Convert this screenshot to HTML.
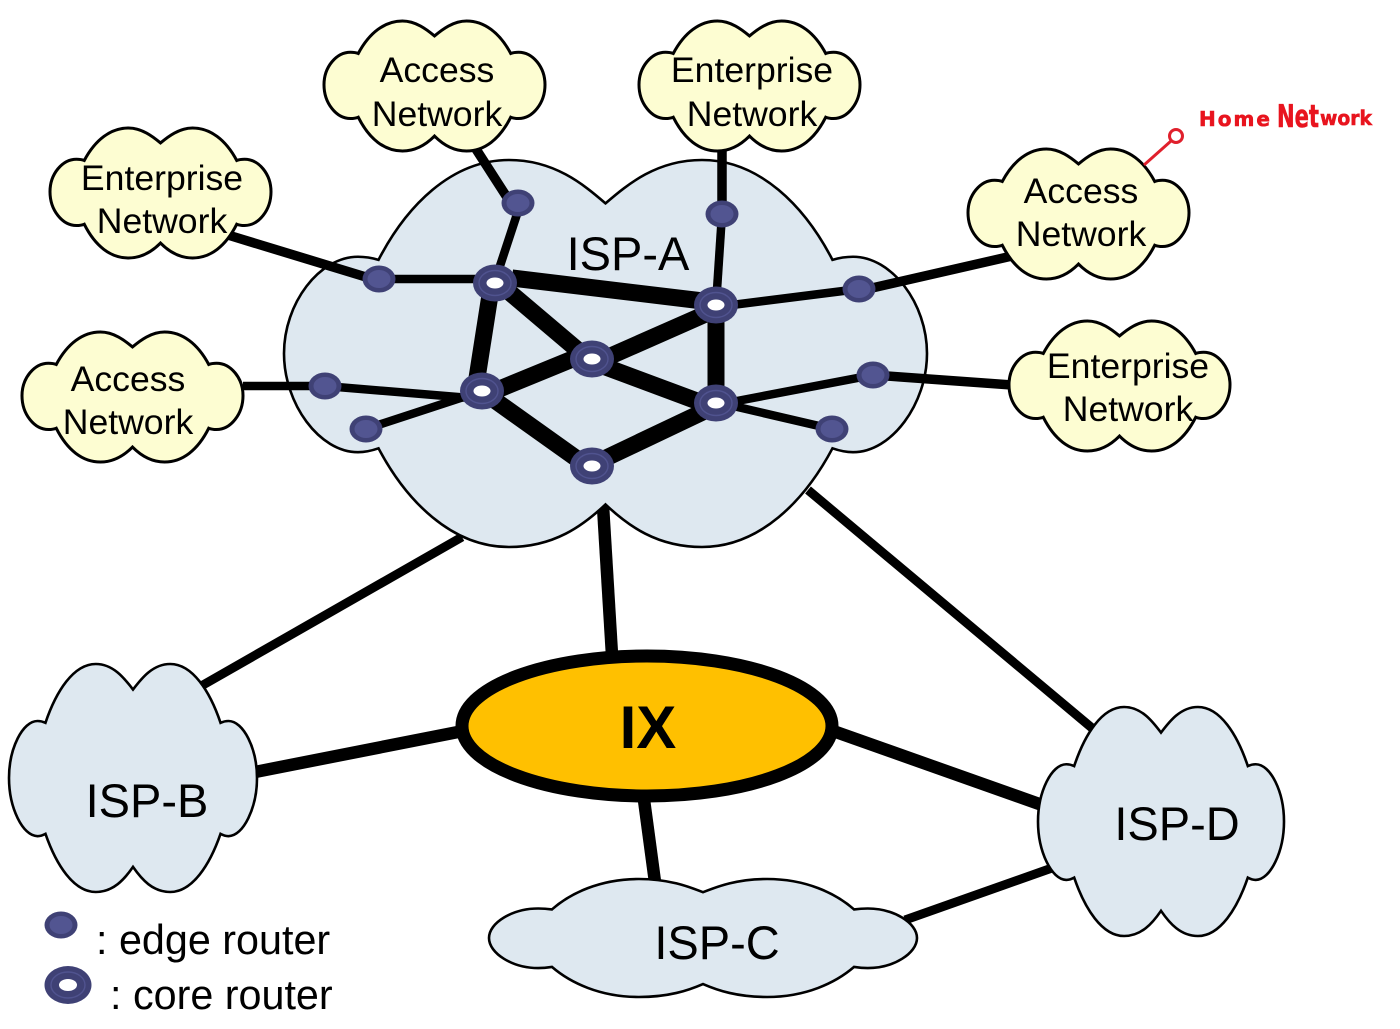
<!DOCTYPE html>
<html><head><meta charset="utf-8"><title>ISP network diagram</title>
<style>html,body{margin:0;padding:0;background:#fff}svg{display:block}
text{font-family:"Liberation Sans",Arial,sans-serif;fill:#000}
.n{font-size:35.6px;text-anchor:middle}
.i{font-size:47px;text-anchor:middle}
.l{font-size:41.3px}
.cl{vector-effect:non-scaling-stroke;stroke:#000;stroke-width:2.6;stroke-linejoin:miter}
.y{stroke-width:3}
.t8 line{stroke:#000;stroke-width:8.5}
.t9 line{stroke:#000;stroke-width:9}
.t10 line{stroke:#000;stroke-width:9.5}
.t12 line{stroke:#000;stroke-width:12.5}
.t16 line{stroke:#000;stroke-width:17}
.hw{font-family:"DejaVu Sans",sans-serif;fill:#e8141e;stroke:#e8141e;stroke-width:.6;font-weight:700}
</style></head><body>
<svg width="1400" height="1029" viewBox="0 0 1400 1029" xmlns="http://www.w3.org/2000/svg">
<defs>
<path id="big" class="cl" fill="#dee8f0" d="M500 112C535 62 580 0 650 0C740 0 810 120 853 258C865 252 875 250 885 250C945 250 1000 370 1000 500C1000 630 945 755 885 755C875 755 865 752 853 745C810 880 740 1000 650 1000C580 1000 535 945 500 890C465 945 420 1000 350 1000C260 1000 190 880 147 745C135 752 125 755 115 755C55 755 0 630 0 500C0 370 55 250 115 250C125 250 135 252 147 258C190 120 260 0 350 0C420 0 465 62 500 112Z"/>
<path id="yel" class="cl y" fill="#fdfdd2" d="M500 115C535 65 585 0 645 0C725 0 795 90 845 250C855 243 868 240 880 240C945 240 1000 355 1000 490C1000 630 945 750 880 750C868 750 855 747 845 740C795 910 725 1000 645 1000C585 1000 535 945 500 885C465 945 415 1000 355 1000C275 1000 205 910 155 740C145 747 132 750 120 750C55 750 0 630 0 490C0 355 55 240 120 240C132 240 145 243 155 250C205 90 275 0 355 0C415 0 465 65 500 115Z"/>
<g id="er"><ellipse rx="16.5" ry="13.5" fill="#3f4175"/><ellipse rx="11.5" ry="9" fill="#525591"/></g>
<g id="cr"><ellipse rx="22" ry="18.5" fill="#3f4175"/><ellipse rx="16" ry="12.5" fill="none" stroke="#50538f" stroke-width="1.4"/><ellipse rx="8.5" ry="5.5" fill="#fff"/></g>
</defs>

<g class="t9">
<line x1="462" y1="537" x2="203" y2="685"/>
<line x1="808" y1="490" x2="1092" y2="728"/>
<line x1="905" y1="920" x2="1052" y2="868"/>
</g>
<g class="t12">
<line x1="603" y1="506" x2="612" y2="655"/>
<line x1="458" y1="732" x2="255" y2="772"/>
<line x1="836" y1="732" x2="1042" y2="805"/>
<line x1="644" y1="800" x2="655" y2="882"/>
</g>

<use href="#big" transform="translate(284 160) scale(.643 .387)"/>
<use href="#big" transform="translate(9 664) scale(.248 .228)"/>
<use href="#big" transform="translate(1038 707) scale(.246 .229)"/>
<use href="#big" transform="translate(489 879) scale(.428 .118)"/>

<ellipse cx="647" cy="726" rx="185" ry="70" fill="#ffc000" stroke="#000" stroke-width="13"/>

<g class="t10">
<line x1="474" y1="146" x2="512" y2="205"/>
<line x1="722" y1="150" x2="722" y2="214"/>
<line x1="228" y1="235" x2="379" y2="281"/>
<line x1="1012" y1="256" x2="859" y2="291"/>
<line x1="1012" y1="385" x2="873" y2="375"/>
</g>
<g class="t8">
<line x1="520" y1="205" x2="497" y2="275"/>
<line x1="722" y1="214" x2="716" y2="305"/>
<line x1="379" y1="279" x2="495" y2="279"/>
<line x1="859" y1="289" x2="716" y2="307"/>
<line x1="243" y1="386" x2="325" y2="386"/>
<line x1="325" y1="386" x2="482" y2="399"/>
<line x1="366" y1="429" x2="482" y2="391"/>
<line x1="873" y1="375" x2="716" y2="405"/>
<line x1="832" y1="429" x2="716" y2="402"/>
</g>
<g class="t16">
<line x1="512" y1="278" x2="703" y2="301"/>
<line x1="716" y1="305" x2="716" y2="402"/>
<line x1="490" y1="295" x2="477" y2="378"/>
<line x1="508" y1="291" x2="580" y2="352"/>
<line x1="708" y1="313" x2="606" y2="358"/>
<line x1="575" y1="358" x2="497" y2="390"/>
<line x1="603" y1="366" x2="705" y2="404"/>
<line x1="493" y1="399" x2="580" y2="461"/>
<line x1="606" y1="458" x2="707" y2="410"/>
</g>

<use href="#yel" transform="translate(324 21) scale(.221 .13)"/>
<use href="#yel" transform="translate(639 21) scale(.221 .13)"/>
<use href="#yel" transform="translate(50 128) scale(.221 .13)"/>
<use href="#yel" transform="translate(968 149) scale(.221 .13)"/>
<use href="#yel" transform="translate(22 332) scale(.221 .13)"/>
<use href="#yel" transform="translate(1009 321) scale(.221 .13)"/>

<use href="#er" x="518" y="203"/><use href="#er" x="722" y="214"/>
<use href="#er" x="379" y="279"/><use href="#er" x="859" y="289"/>
<use href="#er" x="325" y="386"/><use href="#er" x="873" y="375"/>
<use href="#er" x="366" y="429"/><use href="#er" x="832" y="429"/>
<use href="#cr" x="495" y="283"/><use href="#cr" x="716" y="305"/>
<use href="#cr" x="592" y="359"/><use href="#cr" x="482" y="391"/>
<use href="#cr" x="716" y="403"/><use href="#cr" x="592" y="466"/>

<text class="n" x="437" y="82">Access</text><text class="n" x="437" y="126">Network</text>
<text class="n" x="752" y="82">Enterprise</text><text class="n" x="752" y="126">Network</text>
<text class="n" x="162" y="190">Enterprise</text><text class="n" x="162" y="233">Network</text>
<text class="n" x="1081" y="203">Access</text><text class="n" x="1081" y="246">Network</text>
<text class="n" x="128" y="391">Access</text><text class="n" x="128" y="434">Network</text>
<text class="n" x="1128" y="378">Enterprise</text><text class="n" x="1128" y="421">Network</text>

<text class="i" x="628" y="270">ISP-A</text>
<text class="i" x="147" y="817">ISP-B</text>
<text class="i" x="717" y="959">ISP-C</text>
<text class="i" x="1177" y="840">ISP-D</text>
<text x="648" y="748" font-size="60" font-weight="700" text-anchor="middle">IX</text>

<line x1="1144" y1="165" x2="1171" y2="141" stroke="#e0202c" stroke-width="3"/>
<circle cx="1176" cy="136" r="6.5" fill="#fff" stroke="#e0202c" stroke-width="3"/>
<text class="hw" x="1199" y="126" font-size="20" letter-spacing="2">Home</text>
<text class="hw" x="1277" y="127" font-size="31" textLength="42" lengthAdjust="spacingAndGlyphs">Net</text>
<text class="hw" x="1320" y="125" font-size="20" textLength="52" lengthAdjust="spacingAndGlyphs">work</text>

<use href="#er" x="61" y="925"/>
<g transform="translate(68 985)"><ellipse rx="23.5" ry="19" fill="#3f4175"/><ellipse rx="17" ry="13" fill="none" stroke="#50538f" stroke-width="1.4"/><ellipse rx="9" ry="6" fill="#fff"/></g>
<text class="l" x="96" y="954">: edge router</text>
<text class="l" x="110" y="1009">: core router</text>
</svg>
</body></html>
